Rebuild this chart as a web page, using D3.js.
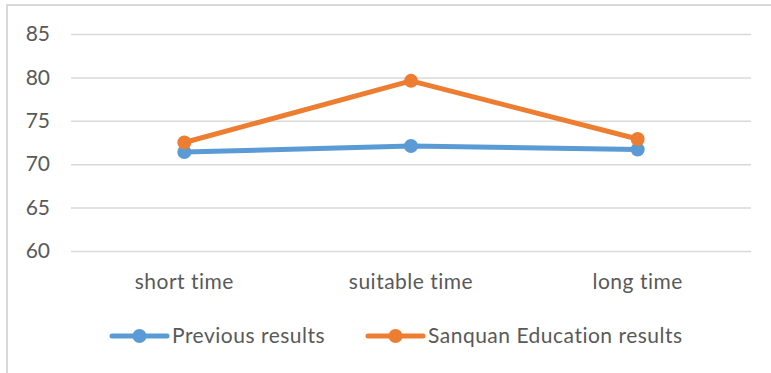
<!DOCTYPE html>
<html>
<head>
<meta charset="utf-8">
<script src="https://cdn.jsdelivr.net/npm/d3@7/dist/d3.min.js"></script>
<style>
  html, body { margin: 0; padding: 0; background: #fff; }
  svg { display: block; }
  text { font-family: Lato, "Open Sans", sans-serif; fill: #595959; }
</style>
</head>
<body>
<svg id="chart" width="771" height="373"></svg>
<script>
// Test scores by study duration
const categories = ["short time", "suitable time", "long time"];
const previousResults = [71.4, 72.1, 71.7];
const sanquanResults = [72.5, 79.6, 72.9];
const yTicks = [60, 65, 70, 75, 80, 85];
const seriesNames = ["Previous results", "Sanquan Education results"];
const seriesColors = ["#5B9BD5", "#ED7D31"];

const svg = d3.select("#chart");
const W = 771, H = 373;
const plot = { left: 71, right: 751, top: 34, bottom: 251 };
const FONT = "Lato, 'Open Sans', sans-serif";
const FS = 21, LS = "0.5px";
const LINE_W = 5, DOT_R = 7;

// chart frame (only top and left edges fall inside the view)
svg.append("rect")
  .attr("x", 7).attr("y", 5)
  .attr("width", W + 20).attr("height", H + 20)
  .attr("fill", "#fff")
  .attr("stroke", "#D9D9D9").attr("stroke-width", 2);

const x = d3.scaleBand().domain(categories).range([plot.left, plot.right]).padding(0);
const y = d3.scaleLinear().domain([60, 85]).range([plot.bottom, plot.top]);

// horizontal gridlines + value labels
const yAxis = d3.axisLeft(y).tickValues(yTicks).tickSize(-(plot.right - plot.left)).tickPadding(21);
const gy = svg.append("g").attr("transform", `translate(${plot.left},0)`).call(yAxis);
gy.select(".domain").remove();
gy.selectAll(".tick line").attr("stroke", "#D9D9D9").attr("stroke-width", 1.5);
gy.selectAll(".tick text").attr("font-size", FS).attr("fill", "#595959")
  .style("font-family", FONT);

// category labels
const xAxis = d3.axisBottom(x).tickSize(0).tickPadding(23);
const gx = svg.append("g").attr("transform", `translate(0,${plot.bottom})`).call(xAxis);
gx.select(".domain").remove();
gx.selectAll(".tick text").attr("font-size", FS).attr("fill", "#595959")
  .style("font-family", FONT).style("letter-spacing", LS);

const line = d3.line()
  .x((d, i) => x(categories[i]) + x.bandwidth() / 2)
  .y(d => y(d));

[previousResults, sanquanResults].forEach((vals, s) => {
  const g = svg.append("g");
  g.append("path").datum(vals)
    .attr("d", line)
    .attr("fill", "none")
    .attr("stroke", seriesColors[s])
    .attr("stroke-width", LINE_W)
    .attr("stroke-linejoin", "round")
    .attr("stroke-linecap", "round");
  g.selectAll("circle").data(vals).join("circle")
    .attr("cx", (d, i) => x(categories[i]) + x.bandwidth() / 2)
    .attr("cy", d => y(d))
    .attr("r", DOT_R)
    .attr("fill", seriesColors[s]);
});

// legend
const legendY = 336;
const legendItems = [{ x0: 112, x1: 167 }, { x0: 368, x1: 423 }];
legendItems.forEach((it, s) => {
  const g = svg.append("g");
  g.append("line")
    .attr("x1", it.x0).attr("x2", it.x1)
    .attr("y1", legendY).attr("y2", legendY)
    .attr("stroke", seriesColors[s]).attr("stroke-width", LINE_W)
    .attr("stroke-linecap", "round");
  g.append("circle")
    .attr("cx", (it.x0 + it.x1) / 2).attr("cy", legendY)
    .attr("r", DOT_R).attr("fill", seriesColors[s]);
  g.append("text")
    .attr("x", it.x1 + 5).attr("y", legendY)
    .attr("dy", "0.35em")
    .attr("font-size", FS)
    .style("letter-spacing", LS)
    .text(seriesNames[s]);
});
</script>
</body>
</html>
